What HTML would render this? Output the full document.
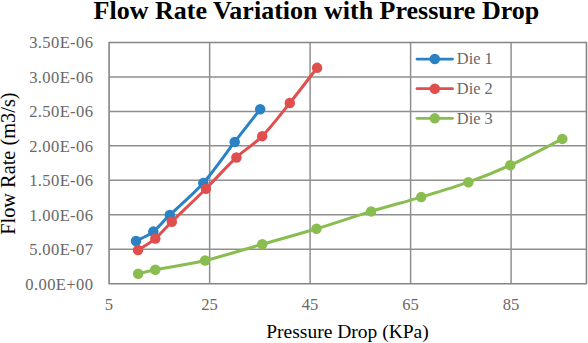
<!DOCTYPE html>
<html><head><meta charset="utf-8"><style>
html,body{margin:0;padding:0;background:#fff;width:588px;height:343px;overflow:hidden}
svg{display:block}
.t{font-family:"Liberation Serif",serif}
</style></head><body>
<svg width="588" height="343" viewBox="0 0 588 343">
<rect width="588" height="343" fill="#fff"/>
<g>
<g stroke="#8F8F8F" stroke-width="1.5" fill="none">
<line x1="109.1" y1="76.96" x2="586.45" y2="76.96" />
<line x1="109.1" y1="111.41" x2="586.45" y2="111.41" />
<line x1="109.1" y1="145.87" x2="586.45" y2="145.87" />
<line x1="109.1" y1="180.33" x2="586.45" y2="180.33" />
<line x1="109.1" y1="214.79" x2="586.45" y2="214.79" />
<line x1="109.1" y1="249.24" x2="586.45" y2="249.24" />
<line x1="209.64" y1="42.5" x2="209.64" y2="283.7" />
<line x1="310.1" y1="42.5" x2="310.1" y2="283.7" />
<line x1="410.62" y1="42.5" x2="410.62" y2="283.7" />
<line x1="511.1" y1="42.5" x2="511.1" y2="283.7" />
</g>
<rect x="109.1" y="42.5" width="477.35" height="241.20" fill="none" stroke="#858585" stroke-width="1.6" stroke-linejoin="round"/>
<g class="t" font-size="16.6" fill="#686868">
<text transform="translate(93.3,48.40) scale(1,1.05)" text-anchor="end" letter-spacing="0.35">3.50E-06</text>
<text transform="translate(93.3,82.86) scale(1,1.05)" text-anchor="end" letter-spacing="0.35">3.00E-06</text>
<text transform="translate(93.3,117.31) scale(1,1.05)" text-anchor="end" letter-spacing="0.35">2.50E-06</text>
<text transform="translate(93.3,151.77) scale(1,1.05)" text-anchor="end" letter-spacing="0.35">2.00E-06</text>
<text transform="translate(93.3,186.23) scale(1,1.05)" text-anchor="end" letter-spacing="0.35">1.50E-06</text>
<text transform="translate(93.3,220.69) scale(1,1.05)" text-anchor="end" letter-spacing="0.35">1.00E-06</text>
<text transform="translate(93.3,255.14) scale(1,1.05)" text-anchor="end" letter-spacing="0.35">5.00E-07</text>
<text transform="translate(93.3,289.60) scale(1,1.05)" text-anchor="end" letter-spacing="0.35">0.00E+00</text>
<text transform="translate(109,310.2) scale(1,1.05)" text-anchor="middle">5</text>
<text transform="translate(209.5,310.2) scale(1,1.05)" text-anchor="middle">25</text>
<text transform="translate(310,310.2) scale(1,1.05)" text-anchor="middle">45</text>
<text transform="translate(410.5,310.2) scale(1,1.05)" text-anchor="middle">65</text>
<text transform="translate(511,310.2) scale(1,1.05)" text-anchor="middle">85</text>
<line x1="417" y1="59.05" x2="452.5" y2="59.05" stroke="#2A82C4" stroke-width="2.8" stroke-linecap="round"/><circle cx="434.8" cy="59.05" r="5.25" fill="#2A82C4"/><text x="456.8" y="64.4" font-size="16.4">Die 1</text><line x1="417" y1="88.69999999999999" x2="452.5" y2="88.69999999999999" stroke="#E04F4E" stroke-width="2.8" stroke-linecap="round"/><circle cx="434.8" cy="88.69999999999999" r="5.25" fill="#E04F4E"/><text x="456.8" y="93.6" font-size="16.4">Die 2</text><line x1="417" y1="118.35" x2="452.5" y2="118.35" stroke="#8ABD4F" stroke-width="2.8" stroke-linecap="round"/><circle cx="434.8" cy="118.35" r="5.25" fill="#8ABD4F"/><text x="456.8" y="123.8" font-size="16.4">Die 3</text>
</g>
<path d="M136.00,241.00 C138.88,239.43 147.67,235.94 153.30,231.60 C158.93,227.26 161.47,223.05 169.80,214.95 C178.13,206.85 192.48,195.17 203.30,183.00 C214.12,170.83 225.22,154.24 234.70,141.95 C244.18,129.66 255.95,114.70 260.20,109.25" fill="none" stroke="#2A82C4" stroke-width="3.0" stroke-linejoin="round" stroke-linecap="round"/><circle cx="136.00" cy="241.00" r="5.25" fill="#2A82C4"/><circle cx="153.30" cy="231.60" r="5.25" fill="#2A82C4"/><circle cx="169.80" cy="214.95" r="5.25" fill="#2A82C4"/><circle cx="203.30" cy="183.00" r="5.25" fill="#2A82C4"/><circle cx="234.70" cy="141.95" r="5.25" fill="#2A82C4"/><circle cx="260.20" cy="109.25" r="5.25" fill="#2A82C4"/>
<path d="M138.00,250.10 C140.88,248.18 149.67,243.32 155.30,238.60 C160.93,233.88 163.37,230.07 171.80,221.75 C180.23,213.43 195.13,199.42 205.90,188.70 C216.67,177.98 227.02,166.21 236.40,157.45 C245.78,148.69 253.30,145.22 262.20,136.15 C271.10,127.08 280.65,114.43 289.80,103.05 C298.95,91.67 312.55,73.72 317.10,67.85" fill="none" stroke="#E04F4E" stroke-width="3.0" stroke-linejoin="round" stroke-linecap="round"/><circle cx="138.00" cy="250.10" r="5.25" fill="#E04F4E"/><circle cx="155.30" cy="238.60" r="5.25" fill="#E04F4E"/><circle cx="171.80" cy="221.75" r="5.25" fill="#E04F4E"/><circle cx="205.90" cy="188.70" r="5.25" fill="#E04F4E"/><circle cx="236.40" cy="157.45" r="5.25" fill="#E04F4E"/><circle cx="262.20" cy="136.15" r="5.25" fill="#E04F4E"/><circle cx="289.80" cy="103.05" r="5.25" fill="#E04F4E"/><circle cx="317.10" cy="67.85" r="5.25" fill="#E04F4E"/>
<path d="M138.20,273.77 C141.05,273.10 144.15,271.94 155.30,269.74 C166.45,267.54 187.27,264.80 205.10,260.55 C222.93,256.30 243.73,249.55 262.30,244.25 C280.87,238.95 298.37,234.22 316.50,228.75 C334.63,223.28 353.65,216.68 371.10,211.40 C388.55,206.12 404.98,201.97 421.20,197.10 C437.42,192.23 453.55,187.52 468.40,182.20 C483.25,176.88 494.65,172.42 510.30,165.20 C525.95,157.98 553.63,143.28 562.30,138.90" fill="none" stroke="#8ABD4F" stroke-width="3.0" stroke-linejoin="round" stroke-linecap="round"/><circle cx="138.20" cy="273.77" r="5.25" fill="#8ABD4F"/><circle cx="155.30" cy="269.74" r="5.25" fill="#8ABD4F"/><circle cx="205.10" cy="260.55" r="5.25" fill="#8ABD4F"/><circle cx="262.30" cy="244.25" r="5.25" fill="#8ABD4F"/><circle cx="316.50" cy="228.75" r="5.25" fill="#8ABD4F"/><circle cx="371.10" cy="211.40" r="5.25" fill="#8ABD4F"/><circle cx="421.20" cy="197.10" r="5.25" fill="#8ABD4F"/><circle cx="468.40" cy="182.20" r="5.25" fill="#8ABD4F"/><circle cx="510.30" cy="165.20" r="5.25" fill="#8ABD4F"/><circle cx="562.30" cy="138.90" r="5.25" fill="#8ABD4F"/>
<text class="t" x="316.4" y="18.5" text-anchor="middle" font-size="26" font-weight="bold" fill="#000">Flow Rate Variation with Pressure Drop</text>
<text class="t" x="347.5" y="337.8" text-anchor="middle" font-size="19.5" fill="#000">Pressure Drop (KPa)</text>
<text class="t" transform="translate(15.0,163.6) rotate(-90)" text-anchor="middle" font-size="20.35" fill="#000">Flow Rate (m3/s)</text>
</g>
</svg>
</body></html>
